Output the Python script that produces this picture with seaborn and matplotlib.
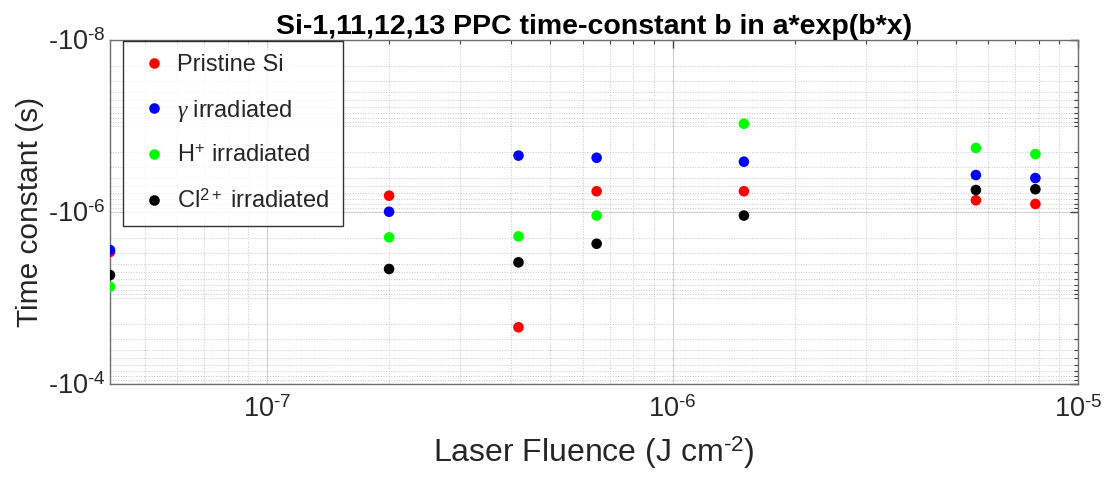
import numpy as np
import pandas as pd
import matplotlib
matplotlib.use("Agg")
import matplotlib.pyplot as plt
import matplotlib.ticker as mticker
import seaborn as sns

# Laser fluence (J cm^-2)
fluence = [4.1e-8, 2.0e-7, 4.17e-7, 6.5e-7, 1.5e-6, 5.6e-6, 7.85e-6]

# time-constant b (s), negative values
pristine = [-2.92e-6, -6.46e-7, -2.19e-5, -5.74e-7, -5.74e-7, -7.31e-7, -8.07e-7]
gamma_irr = [-2.77e-6, -9.93e-7, -2.21e-7, -2.34e-7, -2.60e-7, -3.72e-7, -4.03e-7]
h_irr = [-7.39e-6, -1.97e-6, -1.92e-6, -1.10e-6, -9.40e-8, -1.80e-7, -2.12e-7]
cl_irr = [-5.41e-6, -4.60e-6, -3.85e-6, -2.34e-6, -1.10e-6, -5.55e-7, -5.44e-7]

series_names = ["Pristine Si", r"$\gamma$ irradiated", r"H$^{+}$ irradiated", r"Cl$^{2+}$ irradiated"]
series_vals = [pristine, gamma_irr, h_irr, cl_irr]
colors = ["#ff0000", "#0000ff", "#00ff00", "#000000"]

rows = []
for name, vals in zip(series_names, series_vals):
    for x, b in zip(fluence, vals):
        rows.append({"fluence": x, "mag": -b, "series": name})
df = pd.DataFrame(rows)

sns.set_style("white")
plt.rcParams['font.family'] = ['Liberation Sans', 'DejaVu Sans']
plt.rcParams['mathtext.fontset'] = 'custom'
plt.rcParams['mathtext.rm'] = 'Liberation Sans'
plt.rcParams['mathtext.it'] = 'Liberation Serif:italic'

fig = plt.figure(figsize=(11.06, 4.79), dpi=100)
ax = fig.add_axes([110/1106, 1-384/479, (1078-110)/1106, (384-40)/479])

sns.scatterplot(data=df, x="fluence", y="mag", hue="series", palette=colors,
                hue_order=series_names, s=58, edgecolor="none", ax=ax, zorder=3)

ax.set_xscale("log")
ax.set_yscale("log")
ax.set_xlim(4.1e-8, 1e-5)
ax.set_ylim(1e-4, 1e-8)

HY = "\u2010"


def xfmt(v, p):
    return r"10$^{\mathregular{%s%d}}$" % (HY, abs(round(np.log10(v))))


def yfmt(v, p):
    return r"-10$^{\mathregular{%s%d}}$" % (HY, abs(round(np.log10(v))))


ax.xaxis.set_major_locator(mticker.FixedLocator([1e-7, 1e-6, 1e-5]))
ax.xaxis.set_major_formatter(mticker.FuncFormatter(xfmt))
ax.xaxis.set_minor_locator(mticker.LogLocator(base=10, subs=np.arange(2, 10), numticks=20))
ax.xaxis.set_minor_formatter(mticker.NullFormatter())

ax.yaxis.set_major_locator(mticker.FixedLocator([1e-8, 1e-6, 1e-4]))
ax.yaxis.set_major_formatter(mticker.FuncFormatter(yfmt))
ax.yaxis.set_minor_locator(mticker.FixedLocator(
    [m * 10.0**e for e in range(-8, -4) for m in range(2, 10)] + [1e-7, 1e-5]))
ax.yaxis.set_minor_formatter(mticker.NullFormatter())

ax.tick_params(axis="both", which="major", direction="in", length=6, width=1,
               color="#404040", labelsize=19.5, labelcolor="#262626", pad=3,
               top=True, right=True)
ax.tick_params(axis="x", which="major", pad=9)
ax.tick_params(axis="both", which="minor", direction="in", length=3, width=0.8,
               color="#404040", top=True, right=True)

ax.grid(True, which="major", color="#d0d0d0", linestyle="-", linewidth=0.8, zorder=0)
ax.grid(True, which="minor", color="#c8c8c8", linestyle=":", linewidth=0.7, zorder=0)
ax.set_axisbelow(True)

for sp in ax.spines.values():
    sp.set_color("#6e6e6e")
    sp.set_linewidth(1.0)
    sp.set_visible(True)

ax.set_title("Si-1,11,12,13 PPC time-constant b in a*exp(b*x)", fontsize=20.5,
             fontweight="bold", color="#000000", pad=4)
ax.set_xlabel(r"Laser Fluence (J cm$^{\mathregular{%s2}}$)" % HY, fontsize=23,
              color="#262626", labelpad=8)
ax.set_ylabel("Time constant (s)", fontsize=21.5, color="#262626", labelpad=3)

handles, labels = ax.get_legend_handles_labels()
leg = ax.legend(handles, labels, loc="upper left", fontsize=17, frameon=True,
                fancybox=False, edgecolor="black", borderpad=0.55, labelspacing=0.92,
                handlelength=1.5, handletextpad=0.25, markerscale=1.0,
                bbox_to_anchor=((123-110)/968, 1-(41-40)/344),
                borderaxespad=0.0)
leg.get_frame().set_linewidth(1.0)

fig.savefig("out.png", dpi=100, facecolor="white")
